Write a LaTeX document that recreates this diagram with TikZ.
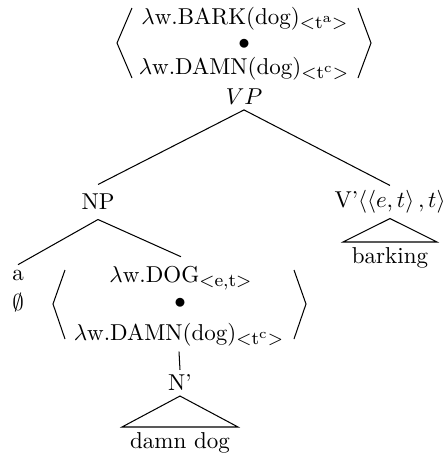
\documentclass[tikz,border=0pt]{standalone}
\DeclareMathSizes{10}{10}{8}{6}
\begin{document}
\begin{tikzpicture}[x=0.435pt,y=-0.435pt,
  lbl/.style={inner sep=2pt, anchor=center},
  br/.style={line width=0.45pt},
  edge/.style={line width=0.45pt}]
\useasboundingbox (0,0) rectangle (444,459);
% top bundle
\node[lbl,inner sep=0pt] (t1) at (245,19) {$\lambda$w.BARK(dog)$_{<\mathrm{t}^{\mathrm{a}}>}$};
\node[lbl,inner sep=0pt] (t2) at (244,44) {$\bullet$};
\node[lbl] (t3) at (244,69) {$\lambda$w.DAMN(dog)$_{<\mathrm{t}^{\mathrm{c}}>}$};
\node[lbl] (vp) at (244,97) {$VP$};
\draw[br] (132,8) -- (117,43) -- (132,78);
\draw[br] (358,8) -- (371,43) -- (358,78);
% NP and V'
\node[lbl,inner sep=4pt] (np) at (98,202) {NP};
\node[lbl] (vb) at (390,202) {V'$\left\langle\left\langle e,t\right\rangle ,t\right\rangle$};
\draw[edge] (vp.south) -- (np.north);
\draw[edge] (vp.south) -- (vb.north);
% barking
\node[lbl] (bark) at (390,258) {barking};
\coordinate (bl) at (343,242);
\coordinate (brt) at (437,242);
\draw[edge] (vb.south) -- (bl) -- (brt) -- cycle;
% a / empty
\node[lbl] (a) at (18,275) {a};
\node[lbl] (e) at (18,303) {$\emptyset$};
% lower bundle
\node[lbl,inner sep=4pt] (d1) at (181,278) {$\lambda$w.DOG$_{<\mathrm{e,t}>}$};
\node[lbl,inner sep=0pt] (d2) at (180,303) {$\bullet$};
\node[lbl] (d3) at (179,335) {$\lambda$w.DAMN(dog)$_{<\mathrm{t}^{\mathrm{c}}>}$};
\draw[br] (65,270) -- (53,304) -- (65,339);
\draw[br] (294,270) -- (306,304) -- (294,339);
\draw[edge] (np.south) -- (a.north);
\draw[edge] (np.south) -- (d1.north);
\node[lbl] (nb) at (180,383) {N'};
\draw[edge] (d3.south) -- (nb.north);
\node[lbl] (dd) at (180,443) {damn dog};
\coordinate (nl) at (122,427);
\coordinate (nr) at (238,427);
\draw[edge] (nb.south) -- (nl) -- (nr) -- cycle;
\end{tikzpicture}
\end{document}
